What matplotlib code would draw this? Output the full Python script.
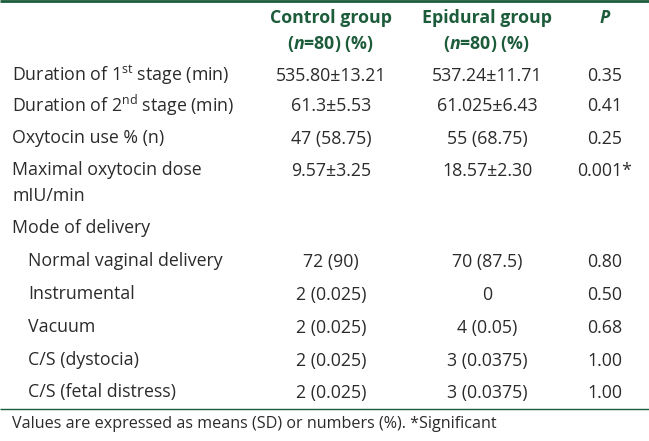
import matplotlib
matplotlib.use("Agg")
import matplotlib.pyplot as plt

plt.rcParams['font.family'] = ['Open Sans', 'DejaVu Sans']
plt.rcParams['mathtext.fontset'] = 'custom'
plt.rcParams['mathtext.rm'] = 'Open Sans'
plt.rcParams['mathtext.it'] = 'Open Sans:italic:bold'
plt.rcParams['mathtext.bf'] = 'Open Sans:bold'

GREEN = '#1d5c3b'
TEXT = '#2b2b2b'

headers = ['Control group', 'Epidural group', 'P']
subheaders = ['($\\it{n}$=80) (%)', '($\\it{n}$=80) (%)', '']

labels = [
    'Duration of 1$^{\\mathrm{st}}$ stage (min)',
    'Duration of 2$^{\\mathrm{nd}}$ stage (min)',
    'Oxytocin use % (n)',
    'Maximal oxytocin dose\nmIU/min',
    'Mode of delivery',
    'Normal vaginal delivery',
    'Instrumental',
    'Vacuum',
    'C/S (dystocia)',
    'C/S (fetal distress)',
]
indented = [False, False, False, False, False, True, True, True, True, True]
control = ['535.80±13.21', '61.3±5.53', '47 (58.75)', '9.57±3.25', '',
           '72 (90)', '2 (0.025)', '2 (0.025)', '2 (0.025)', '2 (0.025)']
epidural = ['537.24±11.71', '61.025±6.43', '55 (68.75)', '18.57±2.30', '',
            '70 (87.5)', '0', '4 (0.05)', '3 (0.0375)', '3 (0.0375)']
pvalues = ['0.35', '0.41', '0.25', '0.001*', '',
           '0.80', '0.50', '0.68', '1.00', '1.00']
footnote = 'Values are expressed as means (SD) or numbers (%). *Significant'

row_y = [75, 105, 138, 170, 228, 261, 294, 327, 360, 392]
col_x = [331, 487, 605]

fig = plt.figure(figsize=(6.49, 4.41), dpi=100)
ax = fig.add_axes([0, 0, 1, 1])
ax.set_xlim(0, 649)
ax.set_ylim(441, 0)
ax.axis('off')

fs = 12.8

# header
for x, h, s in zip(col_x, headers, subheaders):
    style = 'italic' if h == 'P' else 'normal'
    ax.text(x, 18, h, ha='center', va='center', color=GREEN, fontsize=fs,
            fontweight='bold', fontstyle=style)
    if s:
        ax.text(x, 44, s, ha='center', va='center', color=GREEN, fontsize=fs, fontweight='bold')

# body
for i, lab in enumerate(labels):
    y = row_y[i]
    x0 = 28 if indented[i] else 12
    if '\n' in lab:
        a, b = lab.split('\n')
        ax.text(x0, y, a, ha='left', va='center', color=TEXT, fontsize=fs)
        ax.text(x0, y + 26, b, ha='left', va='center', color=TEXT, fontsize=fs)
    else:
        ax.text(x0, y, lab, ha='left', va='center', color=TEXT, fontsize=fs)
    for x, v in zip(col_x, [control[i], epidural[i], pvalues[i]]):
        ax.text(x, y + 1, v, ha='center', va='center', color=TEXT, fontsize=fs)

ax.plot([0, 649], [1, 1], color=GREEN, lw=2.0, solid_capstyle='butt')
ax.plot([0, 649], [409, 409], color=GREEN, lw=1.0, solid_capstyle='butt')
ax.text(12, 424, footnote, ha='left', va='center', color=TEXT, fontsize=11.6)

fig.savefig('out.png', dpi=100, facecolor='white')
